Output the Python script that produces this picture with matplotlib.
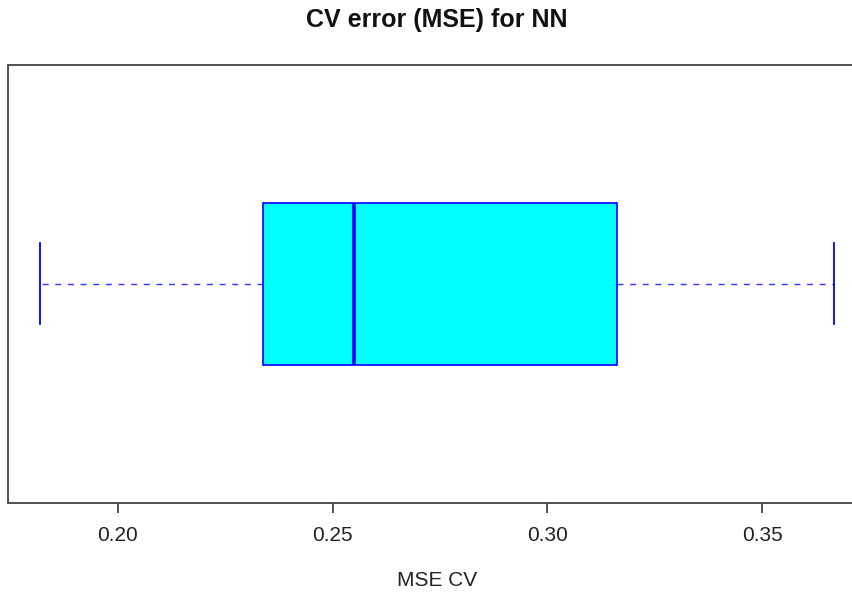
import matplotlib
matplotlib.use("Agg")
import matplotlib.pyplot as plt

plt.rcParams['font.family'] = ['Liberation Sans', 'DejaVu Sans']

# Box statistics
stat_min = 0.1819
stat_q1 = 0.2337
stat_med = 0.2551
stat_q3 = 0.3162
stat_max = 0.3667
tick_values = [0.20, 0.25, 0.30, 0.35]
tick_labels = ["0.20", "0.25", "0.30", "0.35"]

title = "CV error (MSE) for NN"
xlabel = "MSE CV"

fig = plt.figure(figsize=(8.53, 5.92), dpi=100)
W, H = 853, 592
left_px, right_px = 8.3, 865.6
top_px, bot_px = 64.7, 502.7
ax = fig.add_axes([left_px / W, 1 - bot_px / H, (right_px - left_px) / W, (bot_px - top_px) / H])

stats = [dict(whislo=stat_min, q1=stat_q1, med=stat_med, q3=stat_q3, whishi=stat_max, fliers=[])]
ax.bxp(stats, positions=[1], widths=0.4, vert=False, patch_artist=True, showfliers=False,
       boxprops=dict(facecolor='#00FFFF', edgecolor='#0000FF', linewidth=1.2),
       medianprops=dict(color='#0000FF', linewidth=2.6),
       whiskerprops=dict(color='#3333FF', linewidth=1.0, linestyle=(0, (4.3, 4.8))),
       capprops=dict(color='#0000FF', linewidth=1.3),
       capwidths=0.2)

rng = stat_max - stat_min
ax.set_xlim(stat_min - 0.04 * rng, stat_max + 0.04 * rng)
ax.set_ylim(0.46, 1.54)
ax.set_yticks([])
ax.set_xticks(tick_values)
ax.set_xticklabels(tick_labels, fontsize=15, color='#222222')
ax.tick_params(axis='x', length=7, width=1.3, color='#444444', pad=10)
for s in ax.spines.values():
    s.set_color('#444444')
    s.set_linewidth(1.3)

fig.text(437 / W, 1 - 20 / H, title, ha='center', va='center', fontsize=18, fontweight='bold', color='#111111')
fig.text(437 / W, 1 - 580 / H, xlabel, ha='center', va='center', fontsize=15, color='#222222')

fig.savefig("out.png", dpi=100)
